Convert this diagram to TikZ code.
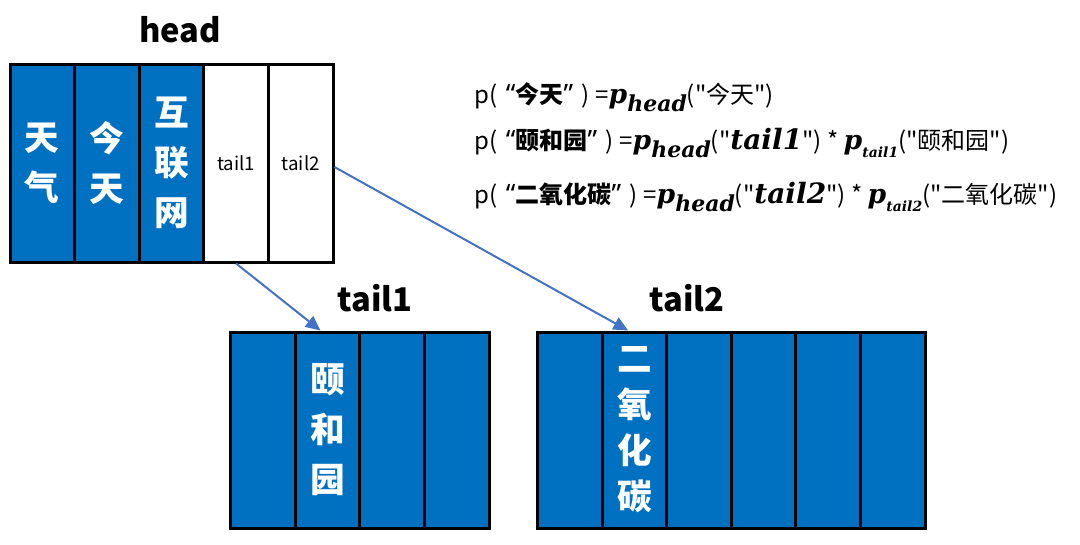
\documentclass[tikz,border=0pt]{standalone}
\usepackage{fontspec}
\setmainfont{Noto Sans CJK SC}
\newfontfamily\cjk{Noto Sans CJK SC}
\newfontfamily\lat{Noto Sans}
\newfontfamily\mfam{DejaVu Serif}
\usetikzlibrary{arrows.meta}
\definecolor{cblue}{HTML}{0070C0}
\definecolor{ablue}{HTML}{4472C4}
\newcommand\mv[1]{{\mfam\bfseries\itshape #1}}
\newcommand\pv[2]{{\fontsize{20}{20}\selectfont\mv{p}}\raisebox{-0.6ex}{\fontsize{#2}{#2}\selectfont\mv{#1}}}
\newcommand\myQ[1]{\hspace{2.5pt}{\lat\bfseries\fontsize{20}{20}\selectfont“}{\bfseries #1}{\lat\bfseries\fontsize{20}{20}\selectfont”}\hspace{2.5pt}}
\tikzset{
  hcell/.style={draw=black, line width=2.25pt, inner sep=0pt, minimum width=48.45pt, minimum height=148.5pt, align=center},
  tcell/.style={draw=black, line width=2.25pt, inner sep=0pt, minimum width=48.4pt, minimum height=147pt, align=center, fill=cblue},
  bluecell/.style={fill=cblue, text=white, font=\bfseries\fontsize{26}{37.5}\selectfont},
  whitecell/.style={fill=white, text=black, font=\fontsize{14}{16}\selectfont},
  title/.style={font=\bfseries\fontsize{24.5}{27}\selectfont, text=black, inner sep=0pt},
  formula/.style={anchor=west, inner sep=0pt, font=\cjk\fontsize{18}{20}\selectfont},
  link/.style={draw=ablue, line width=1.5pt, -{Triangle[length=11pt,width=10pt]}},
}
\begin{document}
\begin{tikzpicture}[x=0.75pt,y=-0.75pt]
\useasboundingbox[fill=white] (0,0) rectangle (1080,544);
% head
\node[hcell,bluecell] (h1) at (42.3,163) {天\\气};
\node[hcell,bluecell] (h2) at (106.9,163) {今\\天};
\node[hcell,bluecell] (h3) at (171.5,163) {互\\联\\网};
\node[hcell,whitecell] (h4) at (236.1,163) {tail1};
\node[hcell,whitecell] (h5) at (300.7,163) {tail2};
\node[title] (headlbl) at (180,30) {head};
% tail1
\node[tcell] (a1) at (263.25,430) {};
\node[tcell,bluecell] (a2) at (327.75,430) {颐\\和\\园};
\node[tcell] (a3) at (392.25,430) {};
\node[tcell] (a4) at (456.75,430) {};
\node[title] (t1lbl) at (375,298) {tail1};
% tail2
\node[tcell] (b1) at (570.25,430) {};
\node[tcell,bluecell,font=\bfseries\fontsize{26}{34.5}\selectfont] (b2) at (634.75,430) {二\\氧\\化\\碳};
\node[tcell] (b3) at (699.25,430) {};
\node[tcell] (b4) at (763.75,430) {};
\node[tcell] (b5) at (828.25,430) {};
\node[tcell] (b6) at (892.75,430) {};
\node[title] (t2lbl) at (687,298) {tail2};
% arrows
\draw[link] (h4.south) -- ([xshift=-5.5pt]a2.north);
\draw[link] ([yshift=-3pt]h5.east) -- ([xshift=-5pt]b2.north);
% formulas
\node[formula] (f1) at (474,97) {p( \myQ{今天} ) =\pv{head}{16.5}("今天")};
\node[formula] (f2) at (474,143) {p( \myQ{颐和园} ) =\pv{head}{16.5}("{\fontsize{21}{21}\selectfont\mv{tail1}}") * \pv{tail1}{10.5}("颐和园")};
\node[formula] (f3) at (474,197) {p( \myQ{二氧化碳} ) =\pv{head}{16.5}("{\fontsize{21}{21}\selectfont\mv{tail2}}") * \pv{tail2}{10.5}("二氧化碳")};
\end{tikzpicture}
\end{document}
